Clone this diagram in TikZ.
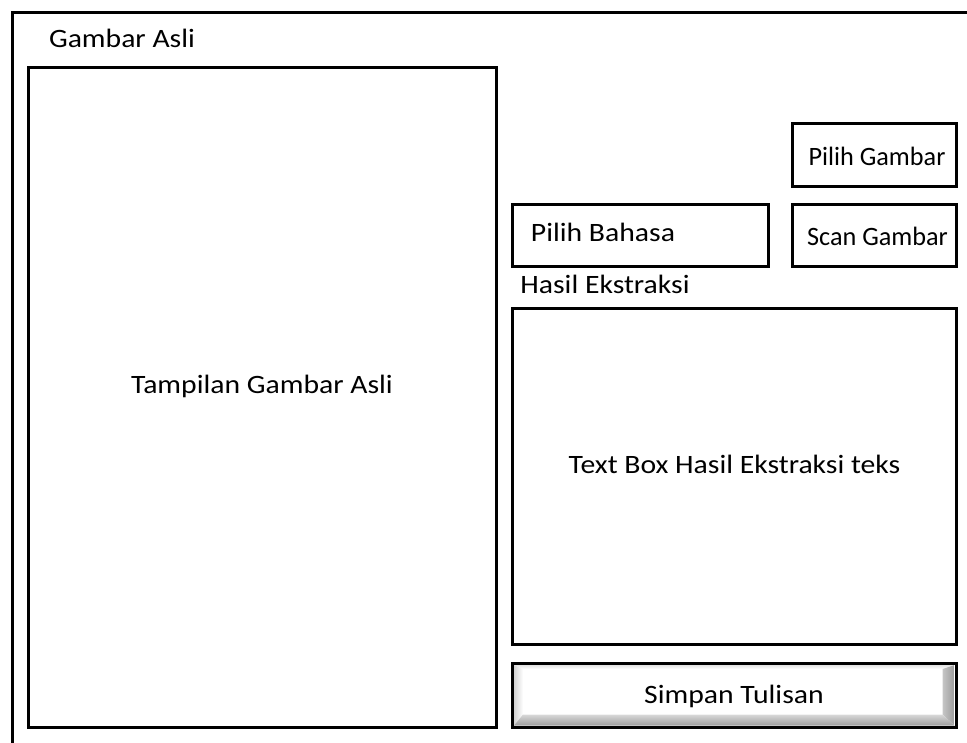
\documentclass[tikz,border=0pt]{standalone}
\usepackage{fontspec}
\setmainfont{Carlito}
\usetikzlibrary{calc}
\newcommand\wide[1]{\scalebox{1.12}[1]{#1}}
\newcommand\snug[1]{\scalebox{0.99}[1]{#1}}
\begin{document}
\begin{tikzpicture}[x=1pt,y=-1pt,
  frame/.style={draw=black,line width=3pt,outer sep=0pt,inner sep=0pt},
  txt/.style={font=\fontsize{26.5}{31}\selectfont,inner sep=0pt,anchor=base}]
\useasboundingbox (0,0) rectangle (967,742);
\clip (0,0) rectangle (967,742);

% window frame (runs past the right and bottom edges)
\draw[line width=3pt] (12.5,12) rectangle (1000,800);

% image preview panel
\node[frame,minimum width=467.5pt,minimum height=660pt] (view) at (262.25,397) {};
% buttons and language selector
\node[frame,minimum width=163.5pt,minimum height=62.5pt] (pick) at (874.25,154.75) {};
\node[frame,minimum width=163.5pt,minimum height=62pt] (scan) at (874.25,235) {};
\node[frame,minimum width=255.5pt,minimum height=62pt] (lang) at (640.25,235) {};
% extraction result text box
\node[frame,minimum width=443.5pt,minimum height=336.5pt] (result) at (734.25,476.25) {};
% bevelled save button
\node[frame,minimum width=443.5pt,minimum height=63.5pt] (save) at (734.25,695.25) {};

\coordinate (o1) at ($(save.north west)+(1.5,1.5)$);
\coordinate (o2) at ($(save.north east)+(-1.5,1.5)$);
\coordinate (o3) at ($(save.south east)+(-1.5,-1.5)$);
\coordinate (o4) at ($(save.south west)+(1.5,-1.5)$);
\coordinate (i1) at ($(o1)+(9,4)$);
\coordinate (i2) at ($(o2)+(-12,4)$);
\coordinate (i3) at ($(o3)+(-12,-11)$);
\coordinate (i4) at ($(o4)+(9,-11)$);
\shade[top color=gray!22,bottom color=white] (o1) -- (o2) -- (i2) -- (i1) -- cycle;
\shade[left color=gray!35,right color=white] (o1) -- (i1) -- (i4) -- (o4) -- cycle;
\shade[left color=gray!45,right color=gray!78] (o2) -- (o3) -- (i3) -- (i2) -- cycle;
\shade[top color=gray!30,bottom color=gray!78] (o4) -- (i4) -- (i3) -- (o3) -- cycle;
\draw[line width=3pt] (save.north west) rectangle (save.south east);

% labels
\node[txt] (tTitle) at (122,47.7) {\wide{Gambar Asli}};
\node[txt] (tView) at (262,393) {\wide{Tampilan Gambar Asli}};
\node[txt] (tPick) at (877,165) {\snug{Pilih Gambar}};
\node[txt] (tScan) at (877.5,245) {\snug{Scan Gambar}};
\node[txt] (tLang) at (603,241.7) {\wide{Pilih Bahasa}};
\node[txt] (tHasil) at (605,293.3) {\wide{Hasil Ekstraksi}};
\node[txt] (tResult) at (734.5,473) {\wide{Text Box Hasil Ekstraksi teks}};
\node[txt] (tSave) at (734,703) {\wide{Simpan Tulisan}};
\end{tikzpicture}
\end{document}
